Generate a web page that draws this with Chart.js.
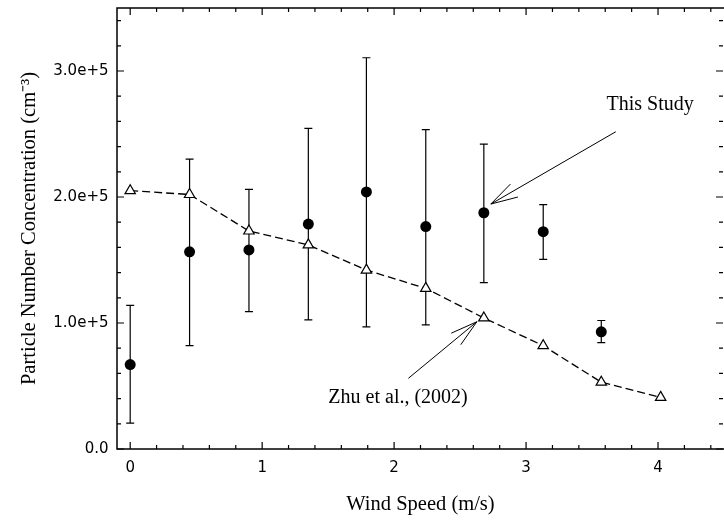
<!DOCTYPE html>
<html lang="en">
<head>
  <meta charset="UTF-8">
  <title>Particle Number Concentration vs Wind Speed</title>
  <script src="https://cdn.jsdelivr.net/npm/chart.js"></script>
  <style>
    html, body {
      margin: 0;
      padding: 0;
      background: #ffffff;
      overflow: hidden;
    }
    #wrap {
      width: 724px;
      height: 522px;
    }
  </style>
</head>
<body>
  <div id="wrap">
    <canvas id="windChart" width="724" height="522"></canvas>
  </div>

  <script>
    // data
    const windSpeed = [0, 0.45, 0.90, 1.35, 1.79, 2.24, 2.68, 3.13, 3.57, 4.02];
    const zhuValues = [2.05e5, 2.02e5, 1.73e5, 1.62e5, 1.42e5, 1.275e5, 1.04e5, 0.82e5, 0.53e5, 0.41e5];
    const studyValues = [0.67e5, 1.565e5, 1.58e5, 1.785e5, 2.04e5, 1.765e5, 1.875e5, 1.725e5, 0.93e5];
    const studyHigh = [1.14e5, 2.30e5, 2.06e5, 2.545e5, 3.105e5, 2.535e5, 2.42e5, 1.94e5, 1.02e5];
    const studyLow = [0.205e5, 0.82e5, 1.09e5, 1.025e5, 0.97e5, 0.985e5, 1.32e5, 1.505e5, 0.845e5];

    const xTicks = [0, 1, 2, 3, 4];
    const yTicks = [0, 1e5, 2e5, 3e5];
    const yTickLabels = ['0.0', '1.0e+5', '2.0e+5', '3.0e+5'];

    // annotation text + arrows (data units)
    const notes = [
      { text: 'This Study', x: 3.94, y: 2.73e5, from: [3.68, 2.518e5], to: [2.733, 1.944e5] },
      { text: 'Zhu et al., (2002)', x: 2.03, y: 0.405e5, from: [2.108, 0.561e5], to: [2.627, 1.01e5] }
    ];

    const serif = '"Liberation Serif", "Times New Roman", serif';
    const sans = '"DejaVu Sans", sans-serif';

    // error bars + frame with inward ticks
    const backPlugin = {
      id: 'backStuff',
      beforeDatasetsDraw(chart) {
        const { ctx, chartArea: a, scales: { x, y } } = chart;
        ctx.save();
        ctx.strokeStyle = '#000';
        ctx.lineWidth = 1.2;
        for (let i = 0; i < studyValues.length; i++) {
          const px = x.getPixelForValue(windSpeed[i]);
          const hi = y.getPixelForValue(studyHigh[i]);
          const lo = y.getPixelForValue(studyLow[i]);
          ctx.beginPath();
          ctx.moveTo(px, hi); ctx.lineTo(px, lo);
          ctx.moveTo(px - 4, hi); ctx.lineTo(px + 4, hi);
          ctx.moveTo(px - 4, lo); ctx.lineTo(px + 4, lo);
          ctx.stroke();
        }

        ctx.lineWidth = 1.5;
        ctx.strokeRect(a.left, a.top, a.right - a.left + 1, a.bottom - a.top);

        ctx.lineWidth = 1.2;
        ctx.beginPath();
        for (let v = 0; v <= 4.5; v += 0.2) {
          const px = x.getPixelForValue(v);
          const major = xTicks.some(t => Math.abs(t - v) < 1e-6);
          const len = major ? 7 : 4;
          ctx.moveTo(px, a.bottom); ctx.lineTo(px, a.bottom - len);
          ctx.moveTo(px, a.top); ctx.lineTo(px, a.top + len);
        }
        for (let v = 0; v <= 3.5e5; v += 0.2e5) {
          const py = y.getPixelForValue(v);
          const major = yTicks.some(t => Math.abs(t - v) < 1);
          const len = major ? 7 : 4;
          ctx.moveTo(a.left, py); ctx.lineTo(a.left + len, py);
          ctx.moveTo(a.right - 1, py); ctx.lineTo(a.right - 1 - len, py);
        }
        ctx.stroke();
        ctx.restore();
      }
    };

    const notePlugin = {
      id: 'notes',
      afterDatasetsDraw(chart) {
        const { ctx, scales: { x, y } } = chart;
        ctx.save();
        ctx.strokeStyle = '#000';
        ctx.fillStyle = '#000';
        ctx.lineWidth = 1;
        ctx.font = '20px ' + serif;
        ctx.textAlign = 'center';
        ctx.textBaseline = 'middle';
        for (const n of notes) {
          ctx.fillText(n.text, x.getPixelForValue(n.x), y.getPixelForValue(n.y));
          const x0 = x.getPixelForValue(n.from[0]), y0 = y.getPixelForValue(n.from[1]);
          const x1 = x.getPixelForValue(n.to[0]), y1 = y.getPixelForValue(n.to[1]);
          const ang = Math.atan2(y0 - y1, x0 - x1);
          ctx.beginPath();
          ctx.moveTo(x0, y0); ctx.lineTo(x1, y1);
          for (const d of [-0.27, 0.27]) {
            ctx.moveTo(x1, y1);
            ctx.lineTo(x1 + 28 * Math.cos(ang + d), y1 + 28 * Math.sin(ang + d));
          }
          ctx.stroke();
        }
        ctx.restore();
      }
    };

    const ctx = document.getElementById('windChart').getContext('2d');
    const chart = new Chart(ctx, {
      type: 'scatter',
      data: {
        datasets: [
          {
            label: 'Zhu et al., (2002)',
            data: zhuValues.map((v, i) => ({ x: windSpeed[i], y: v })),
            showLine: true,
            borderColor: '#000',
            borderWidth: 1.3,
            borderDash: [8, 4],
            pointStyle: 'triangle',
            pointRadius: 6,
            pointBackgroundColor: '#fff',
            pointBorderColor: '#000',
            pointBorderWidth: 1.2
          },
          {
            label: 'This Study',
            data: studyValues.map((v, i) => ({ x: windSpeed[i], y: v })),
            showLine: false,
            pointStyle: 'circle',
            pointRadius: 5.5,
            pointBackgroundColor: '#000',
            pointBorderColor: '#000',
            pointBorderWidth: 0
          }
        ]
      },
      options: {
        responsive: false,
        animation: false,
        devicePixelRatio: 1,
        layout: { autoPadding: false, padding: { top: 8, right: 0, left: 0, bottom: 0 } },
        plugins: {
          legend: { display: false },
          tooltip: { enabled: false }
        },
        scales: {
          x: {
            type: 'linear',
            min: -0.1,
            max: 4.5,
            grid: { display: false, drawTicks: false },
            border: { display: false },
            afterBuildTicks: s => { s.ticks = xTicks.map(v => ({ value: v })); },
            afterFit: s => { s.height = 73; s.paddingLeft = 0; s.paddingRight = 0; },
            ticks: {
              color: '#000',
              padding: 10,
              font: { family: sans, size: 15 },
              callback: v => String(v)
            },
            title: {
              display: true,
              text: 'Wind Speed (m/s)',
              color: '#000',
              font: { family: serif, size: 20.5 },
              padding: { top: 0, bottom: 5 }
            }
          },
          y: {
            type: 'linear',
            min: 0,
            max: 3.5e5,
            grid: { display: false, drawTicks: false },
            border: { display: false },
            afterBuildTicks: s => { s.ticks = yTicks.map(v => ({ value: v })); },
            afterFit: s => { s.width = 117; s.paddingTop = 0; s.paddingBottom = 0; },
            ticks: {
              color: '#000',
              padding: 8.5,
              font: { family: sans, size: 15 },
              callback: v => yTickLabels[yTicks.indexOf(v)]
            },
            title: {
              display: true,
              text: 'Particle Number Concentration (cm\u207B\u00B3)',
              color: '#000',
              font: { family: serif, size: 20.5 },
              padding: { top: 17, bottom: 0 }
            }
          }
        }
      },
      plugins: [backPlugin, notePlugin]
    });
  </script>
</body>
</html>
